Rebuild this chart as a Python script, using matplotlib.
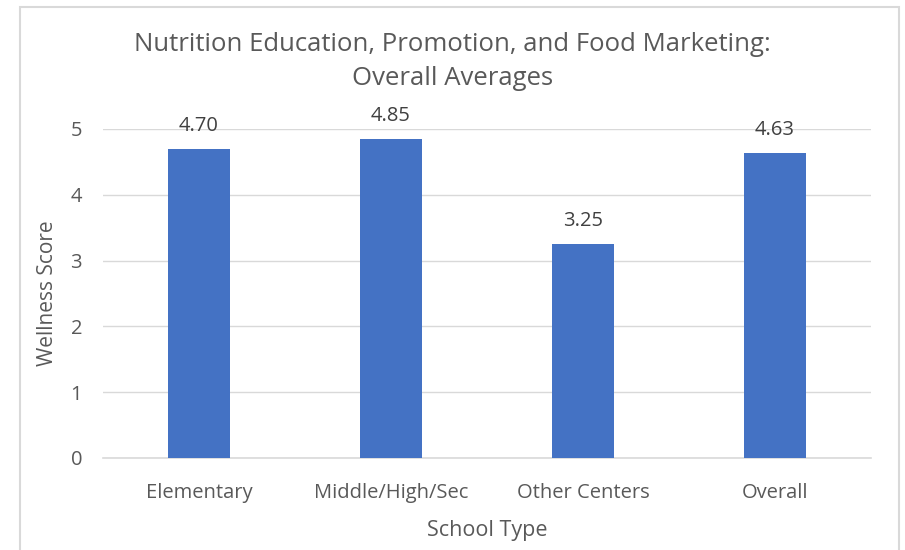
import matplotlib.pyplot as plt
from matplotlib.patches import Rectangle

plt.rcParams['font.family'] = ['Open Sans', 'DejaVu Sans']

schools = ['Elementary', 'Middle/High/Sec', 'Other Centers', 'Overall']
scores = [4.70, 4.85, 3.25, 4.63]

txt = '#595959'

fig = plt.figure(figsize=(9.05, 5.5), dpi=100)
ax = fig.add_axes([0.1138, 0.1673, 0.8486, 0.5982])

x = range(len(schools))
bars = ax.bar(x, scores, width=0.32, color='#4472C4', zorder=3)
for b, v in zip(bars, scores):
    ax.text(b.get_x() + b.get_width() / 2, v + 0.35, f'{v:.2f}',
            ha='center', va='center', fontsize=14.5, color='#404040')

ax.set_xlim(-0.5, len(schools) - 0.5)
ax.set_ylim(0, 5)
ax.set_yticks(range(6))
ax.set_xticks(list(x))
ax.set_xticklabels(schools)
ax.tick_params(length=0, labelsize=14.5, labelcolor=txt)
ax.tick_params(axis='y', pad=15)
ax.tick_params(axis='x', pad=18)
ax.yaxis.grid(True, color='#d9d9d9', linewidth=1, zorder=0)
for s in ['top', 'right', 'left']:
    ax.spines[s].set_visible(False)
ax.spines['bottom'].set_color('#d9d9d9')
ax.spines['bottom'].set_linewidth(1.2)

ax.set_ylabel('Wellness Score', fontsize=15, color=txt, labelpad=9)
ax.set_xlabel('School Type', fontsize=15.5, color=txt, labelpad=12)

fig.text(0.5, 0.888, 'Nutrition Education, Promotion, and Food Marketing:\nOverall Averages',
         ha='center', va='center', fontsize=18.5, color=txt, linespacing=1.45)

# chart frame
fig.patches.append(Rectangle((20 / 905, -0.1), 879 / 905, 1.1 - 7 / 550,
                             transform=fig.transFigure, fill=False,
                             edgecolor='#d9d9d9', linewidth=1.5))

fig.savefig('out.png', dpi=100)
